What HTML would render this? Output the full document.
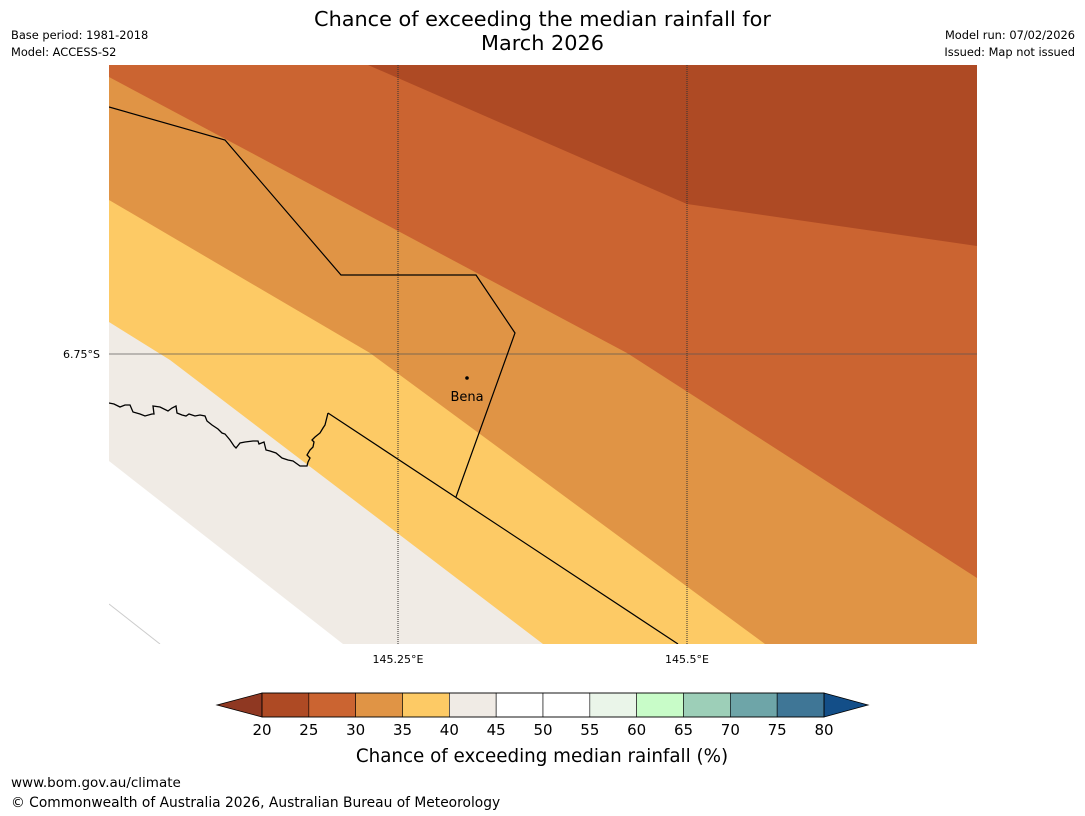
<!DOCTYPE html>
<html><head><meta charset="utf-8"><style>
body{margin:0;width:1085px;height:816px;background:#fff;font-family:"Liberation Sans","DejaVu Sans",sans-serif;overflow:hidden;position:relative}
.t{position:absolute;white-space:nowrap;color:#000}
</style></head><body>
<div class="t" style="left:0;width:1085px;top:7px;text-align:center;font-size:20.8px;line-height:24px;font-family:'DejaVu Sans',sans-serif">Chance of exceeding the median rainfall for<br>March 2026</div>
<div class="t" style="left:11px;top:27px;font-size:11.4px;line-height:17px;font-family:'DejaVu Sans',sans-serif">Base period: 1981-2018<br>Model: ACCESS-S2</div>
<div class="t" style="right:10px;top:27px;font-size:11.4px;line-height:17px;text-align:right;font-family:'DejaVu Sans',sans-serif">Model run: 07/02/2026<br>Issued: Map not issued</div>
<svg width="1085" height="816" style="position:absolute;left:0;top:0">
<defs><clipPath id="c"><rect x="109" y="65" width="868" height="579"/></clipPath></defs>
<g clip-path="url(#c)">
<rect x="109" y="65" width="868" height="579" fill="#f0ebe5"/>
<polygon fill="#fff" points="109,461 343,644 109,644"/>
<polygon fill="#fdca65" points="109,65 109,322 170,360 543,644 977,644 977,65"/>
<polygon fill="#e09445" points="109,65 109,200 370,353 765,644 977,644 977,65"/>
<polygon fill="#cb6431" points="109,65 109,77 627,353 977,578 977,65"/>
<polygon fill="#ae4a24" points="368,65 977,65 977,246 687,204"/>
<line x1="109" y1="604" x2="160" y2="644" stroke="#ccc" stroke-width="1"/>
<line x1="109" y1="354" x2="977" y2="354" stroke="#555" stroke-width="1" opacity="0.7"/>
<line x1="398" y1="65" x2="398" y2="644" stroke="#333" stroke-width="1" stroke-dasharray="1,1"/>
<line x1="687" y1="65" x2="687" y2="644" stroke="#333" stroke-width="1" stroke-dasharray="1,1"/>
<polyline fill="none" stroke="#000" stroke-width="1.2" points="109,107 225,140 341,275 476,275 515,333 456,497"/>
<polyline fill="none" stroke="#000" stroke-width="1.2" points="328,413 678,644"/>
<polyline fill="none" stroke="#000" stroke-width="1.3" points="109,403 114,404 120,407 125,405 130,405 133,412 140,414 145,416 152,414 154,414 153,406 160,407 168,411 172,408 176,406 177,413 182,415 186,416 189,414 195,416 200,415 205,416 207,421 212,425 218,429 222,433 225,434 230,440 234,446 236,448 240,443 245,442 253,441 258,441 259,444 264,442 266,450 270,451 276,453 282,458 288,460 293,461 300,466 307,466 308,462 310,458 307,455 310,450 313,447 314,442 312,440 315,437 320,433 323,428 325,425 328,413"/>
<circle cx="467" cy="378" r="1.8" fill="#000"/>
<text x="467" y="401" text-anchor="middle" font-size="13" font-family="DejaVu Sans,sans-serif">Bena</text>
</g>
<text x="100" y="358" text-anchor="end" font-size="11" font-family="DejaVu Sans,sans-serif">6.75°S</text>
<text x="398" y="663" text-anchor="middle" font-size="11" font-family="DejaVu Sans,sans-serif">145.25°E</text>
<text x="687" y="663" text-anchor="middle" font-size="11" font-family="DejaVu Sans,sans-serif">145.5°E</text>
<g id="cb"></g>
<text x="542" y="762" text-anchor="middle" font-size="18.3" font-family="DejaVu Sans,sans-serif">Chance of exceeding median rainfall (%)</text>
</svg>
<div class="t" style="left:11px;top:775px;font-size:13.5px;font-family:'DejaVu Sans',sans-serif">www.bom.gov.au/climate</div>
<div class="t" style="left:11px;top:795px;font-size:13.8px;font-family:'DejaVu Sans',sans-serif">© Commonwealth of Australia 2026, Australian Bureau of Meteorology</div>
<script>
const ticks=[20,25,30,35,40,45,50,55,60,65,70,75,80];
const colors=["#ae4a24","#cb6431","#e09445","#fdca65","#f0ebe5","#ffffff","#ffffff","#eaf5e9","#c8fcc8","#9dcfb8","#6ea5a8","#3f7696"];
const ns="http://www.w3.org/2000/svg";
const g=document.getElementById('cb');
const x0=262,x1=824,y0=693,y1=717;
const sx=v=>x0+(v-20)/60*(x1-x0);
function mk(t,a){const e=document.createElementNS(ns,t);for(const k in a)e.setAttribute(k,a[k]);g.appendChild(e);return e;}
let lt=mk('polygon',{points:`${x0},${y0} 217,705 ${x0},${y1}`,fill:'#8f3822',stroke:'#000','stroke-width':0.8});


let rt=mk('polygon',{points:`${x1},${y0} 868,705 ${x1},${y1}`,fill:'#134e88',stroke:'#000','stroke-width':0.8});


colors.forEach((c,i)=>{
 const r=mk('rect',{x:sx(ticks[i]),y:y0,width:sx(ticks[i+1])-sx(ticks[i]),height:y1-y0,fill:c,stroke:'#000','stroke-width':0.6});
 
 
});
mk('rect',{x:x0,y:y0,width:x1-x0,height:y1-y0,fill:'none',stroke:'#000','stroke-width':0.8});
ticks.forEach(v=>{
 const t=mk('text',{x:sx(v),y:735,'text-anchor':'middle','font-size':15,'font-family':'DejaVu Sans,sans-serif'});
 t.textContent=v;
 
 
});
</script>
</body></html>
